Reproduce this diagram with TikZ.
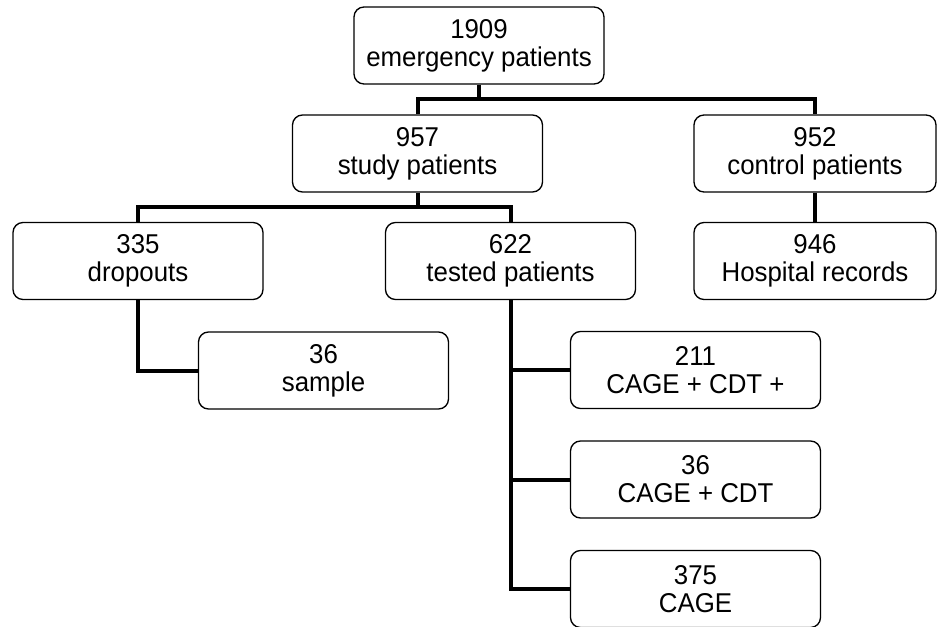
\documentclass[tikz,border=0pt]{standalone}
\usepackage{fontspec}
\setmainfont[FakeStretch=0.95]{Liberation Sans}
\begin{document}
\begin{tikzpicture}[x=0.75pt,y=-0.75pt,
  box/.style={draw, line width=1pt, rounded corners=7.5pt, align=center,
    inner sep=0pt, minimum width=187.5pt, minimum height=57.75pt,
    font=\fontsize{20.4}{21}\selectfont},
  narrowbox/.style={box, minimum width=181.5pt},
  conn/.style={line width=3pt}]
\useasboundingbox (0,0) rectangle (937,627);
% boxes
\node[box] (top) at (479,45.5) {1909\\emergency patients};
\node[box] (study) at (417.5,153.5) {957\\study patients};
\node[narrowbox] (control) at (815,153.5) {952\\control patients};
\node[box] (drop) at (138,261) {335\\dropouts};
\node[box] (tested) at (510.5,261) {622\\tested patients};
\node[narrowbox] (hosp) at (815,261) {946\\Hospital records};
\node[box] (sample) at (323.5,370.5) {36\\sample};
\node[box] (c211) at (695.5,370) {211\\CAGE + CDT +};
\node[box] (c36) at (695.5,479.5) {36\\CAGE + CDT};
\node[box] (c375) at (695.5,589) {375\\CAGE};
% connectors
\coordinate (b1) at (479,99);
\coordinate (b2) at (417.5,207);
\draw[conn] (top.south) -- (b1);
\draw[conn] (study.north) |- (b1) -| (control.north);
\draw[conn] (study.south) -- (b2);
\draw[conn] (drop.north) |- (b2) -| (tested.north);
\draw[conn] (control.south) -- (hosp.north);
\draw[conn] (drop.south) |- (sample.west);
\draw[conn] (tested.south) |- (c375.west);
\draw[conn] (tested.south |- c211.west) -- (c211.west);
\draw[conn] (tested.south |- c36.west) -- (c36.west);
\end{tikzpicture}
\end{document}
